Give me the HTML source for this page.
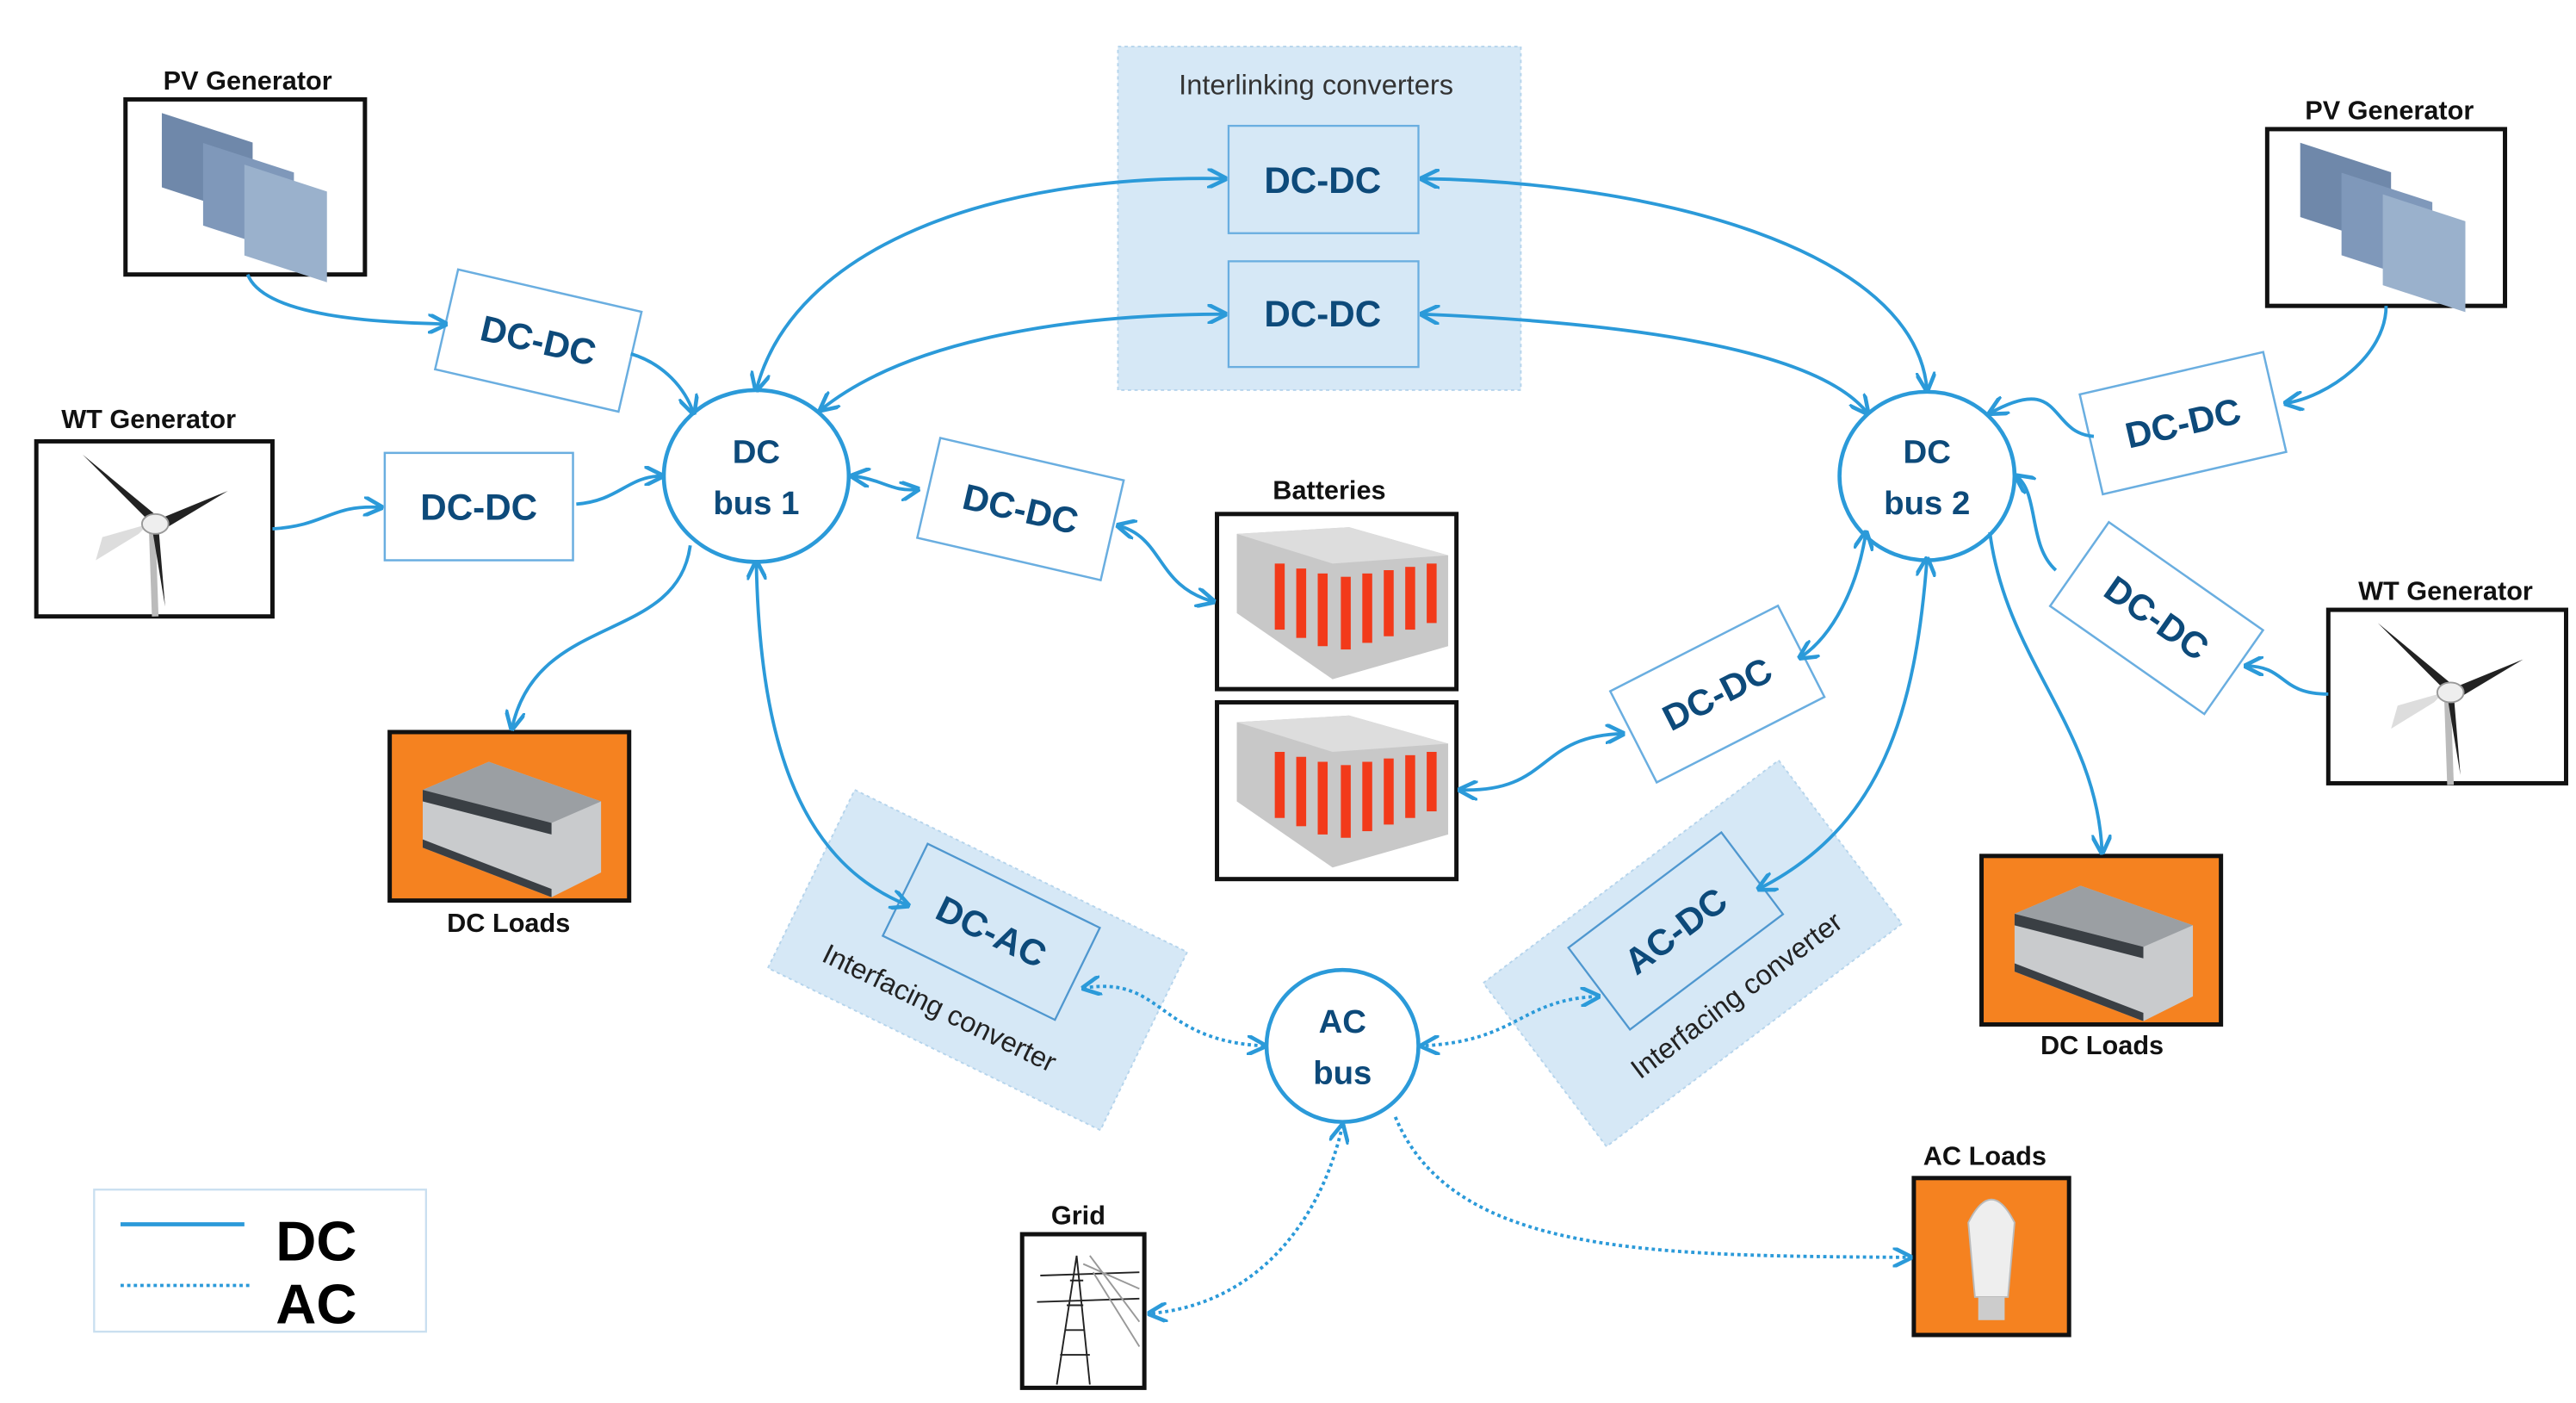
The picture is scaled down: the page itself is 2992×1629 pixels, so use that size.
<!DOCTYPE html>
<html><head><meta charset="utf-8"><style>
html,body{margin:0;padding:0;background:#fff;}
svg{display:block;}
.lbl{font-family:"Liberation Sans",sans-serif;font-weight:bold;font-size:16px;fill:#111;text-anchor:middle;}
.cv{font-family:"Liberation Sans",sans-serif;font-weight:bold;font-size:22px;fill:#0d4a7a;text-anchor:middle;dominant-baseline:central;}
.bus{font-family:"Liberation Sans",sans-serif;font-weight:bold;font-size:20px;fill:#0d4a7a;text-anchor:middle;}
.dc{fill:none;stroke:#2b9ad9;stroke-width:2;}
.ac{fill:none;stroke:#2b9ad9;stroke-width:2;stroke-dasharray:2 2;}
.box{fill:#fff;stroke:#6aaee0;stroke-width:1.3;}
.frame{fill:#fff;stroke:#111;stroke-width:2.6;}
</style></head><body>
<svg width="2992" height="1629" viewBox="0 0 1560 849" xmlns="http://www.w3.org/2000/svg">
<defs>
<marker id="a" viewBox="0 0 10 10" refX="9" refY="5" markerWidth="6" markerHeight="6" orient="auto-start-reverse"><path d="M0,0 L10,5 L0,10" fill="none" stroke="#2b9ad9" stroke-width="2"/></marker>
<g id="pv">
<g transform="skewY(18)">
<rect x="10" y="5" width="55" height="45" fill="#6f88aa"/>
<rect x="35" y="15" width="55" height="50" fill="#7f98ba"/>
<rect x="60" y="20" width="50" height="55" fill="#9ab1cc"/>
</g>
</g>
<g id="wt">
<line x1="70" y1="48" x2="72" y2="106" stroke="#bbb" stroke-width="4"/>
<path d="M70,50 L28,8 L74,46Z" fill="#222"/>
<path d="M72,48 L116,30 L76,54Z" fill="#222"/>
<path d="M70,52 L78,100 L74,52Z" fill="#222"/>
<path d="M68,50 L40,58 L36,72 L62,56Z" fill="#ddd"/>
<ellipse cx="72" cy="50" rx="8" ry="6" fill="#eee" stroke="#999"/>
</g>
<g id="bat">
<path d="M12,12 L80,8 L140,25 L140,80 L70,100 L12,60Z" fill="#c8c8c8"/>
<g fill="#f23a1a">
<rect x="35" y="30" width="6" height="40"/><rect x="48" y="33" width="6" height="42"/><rect x="61" y="36" width="6" height="44"/>
<rect x="75" y="38" width="6" height="44"/><rect x="88" y="36" width="6" height="42"/><rect x="101" y="34" width="6" height="40"/>
<rect x="114" y="32" width="6" height="38"/><rect x="127" y="30" width="6" height="36"/>
</g>
<path d="M12,12 L80,8 L140,25 L70,30Z" fill="#ddd"/>
</g>
<g id="load">
<rect x="0" y="0" width="145" height="102" fill="#f58220" stroke="#111" stroke-width="2.6"/>
<path d="M20,35 L60,18 L128,42 L128,85 L98,100 L20,70Z" fill="#c9cbcd"/>
<path d="M20,35 L60,18 L128,42 L98,55Z" fill="#9b9fa3"/>
<path d="M20,35 L98,55 L98,62 L20,42Z" fill="#3a3f44"/>
<path d="M20,70 L98,100 L98,95 L20,65Z" fill="#3a3f44"/>
</g>
</defs>

<rect x="677" y="28" width="244" height="208" fill="#d6e8f6" stroke="#b5d4ec" stroke-width="1" stroke-dasharray="2 2"/>
<text x="797" y="57" class="lbl" style="fill:#333;font-weight:normal;font-size:17px">Interlinking converters</text>
<rect x="744" y="76" width="115" height="65" fill="#d6e8f6" stroke="#6aaee0" stroke-width="1.2"/>
<text x="801" y="109" class="cv">DC-DC</text>
<rect x="744" y="158" width="115" height="64" fill="#d6e8f6" stroke="#6aaee0" stroke-width="1.2"/>
<text x="801" y="190" class="cv">DC-DC</text>

<g transform="translate(592,581) rotate(26)">
<rect x="-112" y="-60" width="224" height="120" fill="#d6e8f6" stroke="#b5d4ec" stroke-dasharray="2 2"/>
<rect x="-58" y="-50" width="116" height="62" fill="#d6e8f6" stroke="#4f97cf" stroke-width="1.2"/>
<text x="0" y="-19" class="cv">DC-AC</text>
<text x="-8" y="36" class="cv" style="font-size:17px;fill:#222;font-weight:normal">Interfacing converter</text>
</g>
<g transform="translate(1025,577) rotate(-37)">
<rect x="-112" y="-62" width="224" height="124" fill="#d6e8f6" stroke="#b5d4ec" stroke-dasharray="2 2"/>
<rect x="-58" y="-48" width="116" height="62" fill="#d6e8f6" stroke="#4f97cf" stroke-width="1.2"/>
<text x="0" y="-17" class="cv">AC-DC</text>
<text x="6" y="36" class="cv" style="font-size:17px;fill:#222;font-weight:normal">Interfacing converter</text>
</g>

<g transform="translate(326,206) rotate(13)"><rect x="-57" y="-31" width="114" height="62" class="box"/><text x="0" y="0" class="cv">DC-DC</text></g>
<rect x="233" y="274" width="114" height="65" class="box"/><text x="290" y="307" class="cv">DC-DC</text>
<g transform="translate(618,308) rotate(13)"><rect x="-57" y="-31" width="114" height="62" class="box"/><text x="0" y="0" class="cv">DC-DC</text></g>
<g transform="translate(1040,420) rotate(-27)"><rect x="-57" y="-31" width="114" height="62" class="box"/><text x="0" y="0" class="cv">DC-DC</text></g>
<g transform="translate(1322,256) rotate(-13)"><rect x="-57" y="-31" width="114" height="62" class="box"/><text x="0" y="0" class="cv">DC-DC</text></g>
<g transform="translate(1306,374) rotate(35)"><rect x="-57" y="-31" width="114" height="62" class="box"/><text x="0" y="0" class="cv">DC-DC</text></g>

<ellipse cx="458" cy="288" rx="56" ry="52" fill="#fff" stroke="#2b9ad9" stroke-width="2.4"/>
<text x="458" y="280" class="bus">DC</text><text x="458" y="311" class="bus">bus 1</text>
<ellipse cx="1167" cy="288" rx="53" ry="51" fill="#fff" stroke="#2b9ad9" stroke-width="2.4"/>
<text x="1167" y="280" class="bus">DC</text><text x="1167" y="311" class="bus">bus 2</text>
<ellipse cx="813" cy="633" rx="46" ry="46" fill="#fff" stroke="#2b9ad9" stroke-width="2.4"/>
<text x="813" y="625" class="bus">AC</text><text x="813" y="656" class="bus">bus</text>

<text x="150" y="54" class="lbl">PV Generator</text>
<rect x="76" y="60" width="145" height="106" class="frame"/>
<g transform="translate(88,60)"><use href="#pv"/></g>
<text x="90" y="259" class="lbl">WT Generator</text>
<rect x="22" y="267" width="143" height="106" class="frame"/>
<g transform="translate(22,267)"><use href="#wt"/></g>
<text x="1447" y="72" class="lbl">PV Generator</text>
<rect x="1373" y="78" width="144" height="107" class="frame"/>
<g transform="translate(1383,78)"><use href="#pv"/></g>
<text x="1481" y="363" class="lbl">WT Generator</text>
<rect x="1410" y="369" width="144" height="105" class="frame"/>
<g transform="translate(1412,369)"><use href="#wt"/></g>

<text x="805" y="302" class="lbl">Batteries</text>
<rect x="737" y="311" width="145" height="106" class="frame"/>
<g transform="translate(737,311)"><use href="#bat"/></g>
<rect x="737" y="425" width="145" height="107" class="frame"/>
<g transform="translate(737,425)"><use href="#bat"/></g>

<g transform="translate(236,443)"><use href="#load"/></g>
<text x="308" y="564" class="lbl">DC Loads</text>
<g transform="translate(1200,518)"><use href="#load"/></g>
<text x="1273" y="638" class="lbl">DC Loads</text>
<text x="1202" y="705" class="lbl">AC Loads</text>
<rect x="1159" y="713" width="94" height="95" fill="#f58220" stroke="#111" stroke-width="2.6"/>
<path d="M1192,740 Q1206,712 1220,740 L1216,785 L1196,785Z" fill="#eee" stroke="#bbb"/>
<rect x="1198" y="785" width="16" height="14" fill="#ccc"/>

<text x="653" y="741" class="lbl">Grid</text>
<rect x="619" y="747" width="74" height="93" class="frame"/>
<g stroke="#222" stroke-width="1" fill="none">
<path d="M640,838 L652,760 L660,838 M645,805 L657,805 M642,820 L660,820 M646,790 L656,790 M648,775 L656,775 M630,772 L690,770 M628,788 L690,786"/>
<path d="M660,760 L690,800 M662,770 L690,815 M656,765 L690,780" stroke="#999"/>
</g>

<rect x="57" y="720" width="201" height="86" fill="#fff" stroke="#c9dff0" stroke-width="1.2"/>
<line x1="73" y1="741" x2="148" y2="741" class="dc" style="stroke-width:2.5"/>
<line x1="73" y1="778" x2="152" y2="778" class="ac"/>
<text x="167" y="763" style="font-family:'Liberation Sans',sans-serif;font-weight:bold;font-size:34px;fill:#000">DC</text>
<text x="167" y="801" style="font-family:'Liberation Sans',sans-serif;font-weight:bold;font-size:34px;fill:#000">AC</text>

<path class="dc" marker-end="url(#a)" d="M150,166 C160,192 230,195 270,196"/>
<path class="dc" marker-end="url(#a)" d="M382,214 C402,220 415,235 420,250"/>
<path class="dc" marker-end="url(#a)" d="M165,320 C198,318 200,305 231,307"/>
<path class="dc" marker-end="url(#a)" d="M349,305 C375,303 380,288 401,288"/>
<path class="dc" marker-start="url(#a)" marker-end="url(#a)" d="M458,236 C480,150 600,105 742,108"/>
<path class="dc" marker-start="url(#a)" marker-end="url(#a)" d="M497,248 C550,205 650,190 742,190"/>
<path class="dc" marker-start="url(#a)" marker-end="url(#a)" d="M516,288 C535,290 540,298 556,296"/>
<path class="dc" marker-start="url(#a)" marker-end="url(#a)" d="M677,318 C705,325 700,355 735,364"/>
<path class="dc" marker-end="url(#a)" d="M418,330 C410,390 325,370 310,441"/>
<path class="dc" marker-start="url(#a)" marker-end="url(#a)" d="M458,340 C460,440 480,520 550,548"/>
<path class="dc" marker-start="url(#a)" marker-end="url(#a)" d="M861,108 C1000,110 1160,150 1167,236"/>
<path class="dc" marker-start="url(#a)" marker-end="url(#a)" d="M861,190 C980,195 1100,210 1131,250"/>
<path class="dc" marker-end="url(#a)" d="M1445,185 C1445,215 1410,240 1384,244"/>
<path class="dc" marker-end="url(#a)" d="M1268,264 C1240,262 1250,225 1205,250"/>
<path class="dc" marker-end="url(#a)" d="M1410,420 C1380,420 1385,403 1360,403"/>
<path class="dc" marker-end="url(#a)" d="M1245,345 C1228,330 1235,298 1221,288"/>
<path class="dc" marker-start="url(#a)" marker-end="url(#a)" d="M1130,322 C1125,355 1110,385 1090,398"/>
<path class="dc" marker-start="url(#a)" marker-end="url(#a)" d="M983,444 C930,445 940,480 884,478"/>
<path class="dc" marker-start="url(#a)" marker-end="url(#a)" d="M1167,338 C1160,430 1140,500 1065,538"/>
<path class="dc" marker-end="url(#a)" d="M1205,322 C1215,400 1270,440 1273,516"/>

<path class="ac" marker-start="url(#a)" marker-end="url(#a)" d="M656,598 C705,590 700,630 766,633"/>
<path class="ac" marker-start="url(#a)" marker-end="url(#a)" d="M968,603 C920,605 920,630 861,633"/>
<path class="ac" marker-start="url(#a)" marker-end="url(#a)" d="M813,681 C800,740 760,790 696,795"/>
<path class="ac" marker-end="url(#a)" d="M845,676 C880,760 1000,760 1157,761"/>
</svg>
</body></html>
